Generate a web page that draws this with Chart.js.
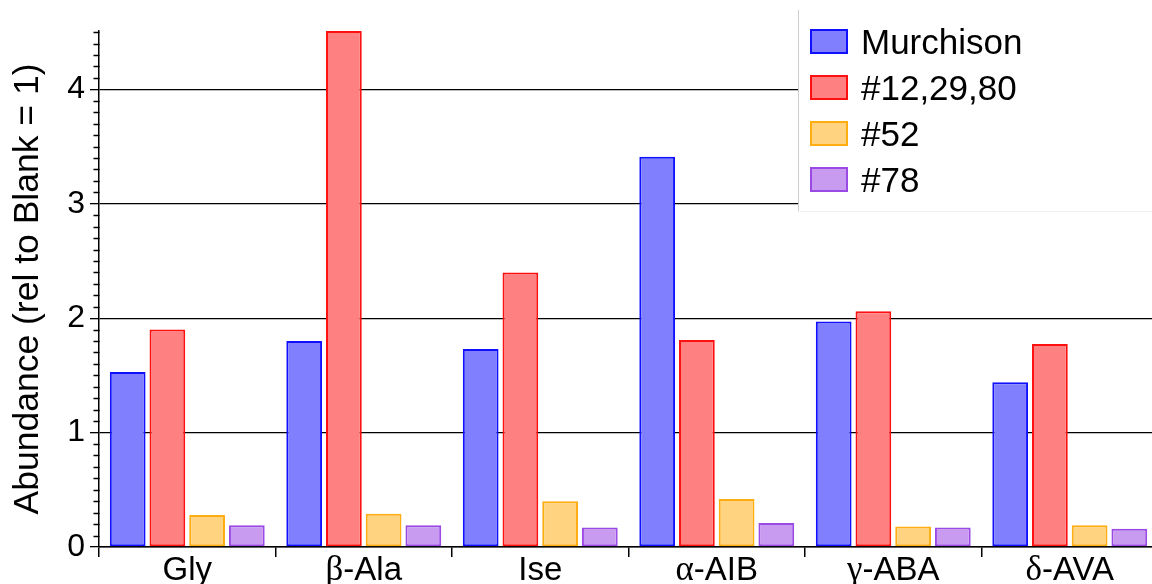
<!DOCTYPE html>
<html>
<head>
<meta charset="utf-8">
<script src="https://cdn.jsdelivr.net/npm/chart.js@4.4.1/dist/chart.umd.min.js"></script>
<style>
  html, body { margin: 0; padding: 0; background: #fff; overflow: hidden; }
  #wrap { width: 1152px; height: 584px; overflow: hidden; }
  canvas { display: block; }
</style>
</head>
<body>
<div id="wrap"><canvas id="c" width="1160" height="584"></canvas></div>
<script>
// Amino acid categories
const categories = ['Gly', 'β-Ala', 'Ise', 'α-AIB', 'γ-ABA', 'δ-AVA'];

// Abundance relative to blank (blank = 1)
const murchison = [1.53, 1.80, 1.73, 3.41, 1.97, 1.44];
const samples122980 = [1.90, 4.51, 2.40, 1.81, 2.06, 1.775];
const sample52 = [0.28, 0.29, 0.40, 0.42, 0.18, 0.19];
const sample78 = [0.19, 0.19, 0.17, 0.21, 0.17, 0.16];

const seriesNames = ['Murchison', '#12,29,80', '#52', '#78'];
const yTickValues = [0, 1, 2, 3, 4];
const yMax = 4.51;

const SANS = "'Liberation Sans', Arial, Helvetica, sans-serif";
const SERIF = "'Liberation Serif', 'Times New Roman', serif";

// Small outward ticks every 0.1 on the value axis
const minorTicks = {
  id: 'minorTicks',
  afterDraw(chart) {
    const y = chart.scales.y;
    const ctx = chart.ctx;
    const x0 = Math.round(y.right) + 0.5;
    ctx.save();
    ctx.strokeStyle = '#000';
    ctx.lineWidth = 1.3;
    ctx.beginPath();
    for (let k = 1; k / 10 <= yMax + 1e-9; k++) {
      if (k % 10 === 0) continue;
      const py = Math.round(y.getPixelForValue(k / 10)) + 0.5;
      ctx.moveTo(x0 - 6, py);
      ctx.lineTo(x0, py);
    }
    ctx.stroke();
    ctx.restore();
  }
};

// Category labels: Greek prefix set in a serif face, the rest in sans
const categoryLabels = {
  id: 'categoryLabels',
  afterDraw(chart) {
    const xs = chart.scales.x;
    const ctx = chart.ctx;
    const baseY = xs.top + 32.5;
    ctx.save();
    ctx.fillStyle = '#000';
    ctx.textBaseline = 'alphabetic';
    ctx.textAlign = 'left';
    chart.data.labels.forEach((lab, i) => {
      const cx = xs.getPixelForTick(i);
      const first = lab.charAt(0);
      const greek = /[\u0370-\u03FF]/.test(first);
      const head = greek ? first : '';
      const tail = greek ? lab.slice(1) : lab;
      ctx.font = '35px ' + SERIF;
      const wh = head ? ctx.measureText(head).width : 0;
      ctx.font = '33px ' + SANS;
      const wt = ctx.measureText(tail).width;
      let x = cx - (wh + wt) / 2;
      if (head) {
        ctx.font = '35px ' + SERIF;
        ctx.fillText(head, x, baseY);
        x += wh;
      }
      ctx.font = '33px ' + SANS;
      ctx.fillText(tail, x, baseY);
    });
    ctx.restore();
  }
};

// Legend panel in the upper right corner of the plot
const legendPanel = {
  id: 'legendPanel',
  afterDraw(chart) {
    const ctx = chart.ctx;
    const left = 798, top = 10, bottom = 211;
    ctx.save();
    ctx.fillStyle = '#fff';
    ctx.fillRect(left, top, chart.width - left, bottom - top);
    ctx.strokeStyle = '#cfcfcf';
    ctx.lineWidth = 1;
    ctx.beginPath();
    ctx.moveTo(left + 0.5, top);
    ctx.lineTo(left + 0.5, bottom);
    ctx.stroke();
    ctx.strokeStyle = '#f0f0f0';
    ctx.beginPath();
    ctx.moveTo(left, bottom + 0.5);
    ctx.lineTo(chart.width, bottom + 0.5);
    ctx.stroke();
    ctx.font = '35px ' + SANS;
    ctx.textBaseline = 'alphabetic';
    ctx.textAlign = 'left';
    chart.data.datasets.forEach((ds, i) => {
      const sy = 30 + i * 46;
      ctx.fillStyle = ds.backgroundColor;
      ctx.fillRect(811, sy, 36, 23);
      ctx.strokeStyle = ds.borderColor;
      ctx.lineWidth = 2;
      ctx.strokeRect(811, sy, 36, 23);
      ctx.fillStyle = '#000';
      ctx.fillText(ds.label, 861, sy + 24);
    });
    ctx.restore();
  }
};

const fills = ['#8080ff', '#ff8080', '#ffd37f', '#c99bf0'];
const edges = ['#1010ff', '#ff1010', '#ffad10', '#9a4ae4'];
const values = [murchison, samples122980, sample52, sample78];

new Chart(document.getElementById('c'), {
  type: 'bar',
  data: {
    labels: categories,
    datasets: seriesNames.map((name, i) => ({
      label: name,
      data: values[i],
      backgroundColor: fills[i],
      borderColor: edges[i],
      borderWidth: 2,
      borderSkipped: false,
      categoryPercentage: 0.9,
      barPercentage: 0.9
    }))
  },
  options: {
    responsive: false,
    animation: false,
    devicePixelRatio: 1,
    layout: { padding: { left: 3, top: 31, right: 2, bottom: 0 } },
    plugins: {
      legend: { display: false },
      tooltip: { enabled: false }
    },
    scales: {
      x: {
        type: 'category',
        offset: true,
        afterFit(scale) { scale.height = 37; },
        grid: {
          offset: true,
          drawOnChartArea: false,
          drawTicks: true,
          tickLength: 10,
          color: '#000',
          lineWidth: 1.5
        },
        border: { color: '#000', width: 1.5 },
        ticks: { display: false }
      },
      y: {
        min: 0,
        max: yMax,
        afterFit(scale) { scale.width = 96; },
        afterBuildTicks(scale) {
          scale.ticks = yTickValues.map(v => ({ value: v }));
        },
        grid: {
          color: '#000',
          lineWidth: 1.3,
          tickLength: 9,
          drawTicks: true
        },
        border: { color: '#000', width: 1.5 },
        ticks: {
          color: '#000',
          padding: 5,
          font: { family: SANS, size: 32 }
        },
        title: {
          display: true,
          text: 'Abundance (rel to Blank = 1)',
          color: '#000',
          font: { family: SANS, size: 35.5 },
          padding: { top: 4, bottom: 0 }
        }
      }
    }
  },
  plugins: [minorTicks, categoryLabels, legendPanel]
});
</script>
</body>
</html>
